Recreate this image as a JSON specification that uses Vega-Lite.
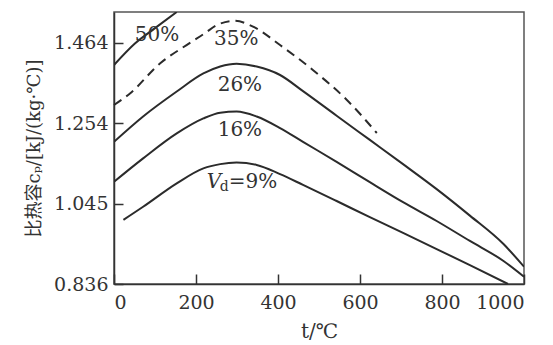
{
  "$schema": "https://vega.github.io/schema/vega-lite/v6.json",
  "autosize": "none",
  "width": 410,
  "height": 272,
  "padding": {"left": 114, "top": 12, "right": 29, "bottom": 61},
  "background": "#ffffff",
  "config": {
    "view": {"stroke": "#555555", "strokeWidth": 1.5},
    "axis": {
      "grid": false,
      "domainColor": "#333333",
      "domainWidth": 1.5,
      "tickColor": "#333333",
      "tickWidth": 1.5,
      "labelFont": "DejaVu Serif",
      "labelFontSize": 19,
      "labelColor": "#333333",
      "titleFont": "DejaVu Serif",
      "titleFontWeight": "normal",
      "titleColor": "#333333"
    }
  },
  "datasets": {
    "curves": [
      {"series": "50%", "t": 0, "cp": 1.406},
      {"series": "50%", "t": 51, "cp": 1.462},
      {"series": "50%", "t": 100, "cp": 1.502},
      {"series": "50%", "t": 153, "cp": 1.544},
      {"series": "35%", "t": 0, "cp": 1.302},
      {"series": "35%", "t": 39, "cp": 1.332},
      {"series": "35%", "t": 112, "cp": 1.41},
      {"series": "35%", "t": 177, "cp": 1.458},
      {"series": "35%", "t": 222, "cp": 1.489},
      {"series": "35%", "t": 251, "cp": 1.51},
      {"series": "35%", "t": 295, "cp": 1.521},
      {"series": "35%", "t": 339, "cp": 1.506},
      {"series": "35%", "t": 405, "cp": 1.458},
      {"series": "35%", "t": 485, "cp": 1.393},
      {"series": "35%", "t": 568, "cp": 1.315},
      {"series": "35%", "t": 641, "cp": 1.229},
      {"series": "26%", "t": 0, "cp": 1.206},
      {"series": "26%", "t": 71, "cp": 1.272},
      {"series": "26%", "t": 153, "cp": 1.337},
      {"series": "26%", "t": 218, "cp": 1.384},
      {"series": "26%", "t": 259, "cp": 1.402},
      {"series": "26%", "t": 299, "cp": 1.409},
      {"series": "26%", "t": 348, "cp": 1.402},
      {"series": "26%", "t": 405, "cp": 1.38},
      {"series": "26%", "t": 461, "cp": 1.338},
      {"series": "26%", "t": 543, "cp": 1.274},
      {"series": "26%", "t": 624, "cp": 1.211},
      {"series": "26%", "t": 705, "cp": 1.148},
      {"series": "26%", "t": 787, "cp": 1.083},
      {"series": "26%", "t": 868, "cp": 1.014},
      {"series": "26%", "t": 950, "cp": 0.94},
      {"series": "26%", "t": 1000, "cp": 0.881},
      {"series": "16%", "t": 0, "cp": 1.102},
      {"series": "16%", "t": 71, "cp": 1.163},
      {"series": "16%", "t": 153, "cp": 1.228},
      {"series": "16%", "t": 218, "cp": 1.267},
      {"series": "16%", "t": 259, "cp": 1.282},
      {"series": "16%", "t": 299, "cp": 1.285},
      {"series": "16%", "t": 348, "cp": 1.272},
      {"series": "16%", "t": 405, "cp": 1.242},
      {"series": "16%", "t": 461, "cp": 1.206},
      {"series": "16%", "t": 543, "cp": 1.154},
      {"series": "16%", "t": 624, "cp": 1.101},
      {"series": "16%", "t": 705, "cp": 1.049},
      {"series": "16%", "t": 787, "cp": 1.0},
      {"series": "16%", "t": 868, "cp": 0.948},
      {"series": "16%", "t": 950, "cp": 0.896},
      {"series": "16%", "t": 1000, "cp": 0.855},
      {"series": "9%", "t": 23, "cp": 1.003},
      {"series": "9%", "t": 71, "cp": 1.037},
      {"series": "9%", "t": 153, "cp": 1.098},
      {"series": "9%", "t": 218, "cp": 1.137},
      {"series": "9%", "t": 259, "cp": 1.148},
      {"series": "9%", "t": 299, "cp": 1.152},
      {"series": "9%", "t": 348, "cp": 1.146},
      {"series": "9%", "t": 405, "cp": 1.122},
      {"series": "9%", "t": 461, "cp": 1.094},
      {"series": "9%", "t": 543, "cp": 1.052},
      {"series": "9%", "t": 624, "cp": 1.01},
      {"series": "9%", "t": 705, "cp": 0.969},
      {"series": "9%", "t": 787, "cp": 0.927},
      {"series": "9%", "t": 868, "cp": 0.885},
      {"series": "9%", "t": 961, "cp": 0.836}
    ],
    "labels": [
      {"label": "50%", "style": "normal", "t": 105, "cp": 1.485},
      {"label": "35%", "style": "normal", "t": 298, "cp": 1.475},
      {"label": "26%", "style": "normal", "t": 307, "cp": 1.354},
      {"label": "16%", "style": "normal", "t": 307, "cp": 1.237},
      {"label": "V", "style": "italic", "t": 244, "cp": 1.101},
      {"label": "d", "style": "sub", "t": 269, "cp": 1.088},
      {"label": "=9%", "style": "normal", "t": 339, "cp": 1.101}
    ]
  },
  "layer": [
    {
      "data": {"name": "curves"},
      "transform": [{"filter": "datum.series !== '35%'"}],
      "mark": {"type": "line", "interpolate": "monotone", "color": "#2b2b2b", "strokeWidth": 2, "clip": true},
      "encoding": {
        "x": {
          "field": "t", "type": "quantitative",
          "scale": {"domain": [0, 1000], "nice": false, "zero": false},
          "axis": {
            "values": [0, 200, 400, 600, 800, 1000],
            "format": "d",
            "tickSize": -10,
            "labelPadding": 19,
            "title": "t/℃",
            "titleFontSize": 20,
            "titlePadding": 9
          }
        },
        "y": {
          "field": "cp", "type": "quantitative",
          "scale": {"domain": [0.836, 1.544], "nice": false, "zero": false},
          "axis": {
            "values": [0.836, 1.045, 1.254, 1.464],
            "format": ".3f",
            "tickSize": -9,
            "labelPadding": 15,
            "title": "比热容cₚ/[kJ/(kg·℃)]",
            "titleFont": "DejaVu Serif, Noto Sans CJK SC",
            "titleFontSize": 18,
            "titlePadding": 10
          }
        },
        "detail": {"field": "series"}
      }
    },
    {
      "data": {"name": "curves"},
      "transform": [{"filter": "datum.series === '35%'"}],
      "mark": {"type": "line", "interpolate": "monotone", "color": "#2b2b2b", "strokeWidth": 2, "strokeDash": [9, 6]},
      "encoding": {
        "x": {"field": "t", "type": "quantitative"},
        "y": {"field": "cp", "type": "quantitative"}
      }
    },
    {
      "data": {"name": "labels"},
      "transform": [{"filter": "datum.style === 'normal'"}],
      "mark": {"type": "text", "font": "DejaVu Serif", "fontSize": 20, "color": "#333333", "align": "center", "baseline": "middle"},
      "encoding": {
        "x": {"field": "t", "type": "quantitative"},
        "y": {"field": "cp", "type": "quantitative"},
        "text": {"field": "label"}
      }
    },
    {
      "data": {"name": "labels"},
      "transform": [{"filter": "datum.style === 'italic'"}],
      "mark": {"type": "text", "font": "DejaVu Serif", "fontStyle": "italic", "fontSize": 20, "color": "#333333", "align": "center", "baseline": "middle"},
      "encoding": {
        "x": {"field": "t", "type": "quantitative"},
        "y": {"field": "cp", "type": "quantitative"},
        "text": {"field": "label"}
      }
    },
    {
      "data": {"name": "labels"},
      "transform": [{"filter": "datum.style === 'sub'"}],
      "mark": {"type": "text", "font": "DejaVu Serif", "fontSize": 14, "color": "#333333", "align": "center", "baseline": "middle"},
      "encoding": {
        "x": {"field": "t", "type": "quantitative"},
        "y": {"field": "cp", "type": "quantitative"},
        "text": {"field": "label"}
      }
    }
  ]
}
